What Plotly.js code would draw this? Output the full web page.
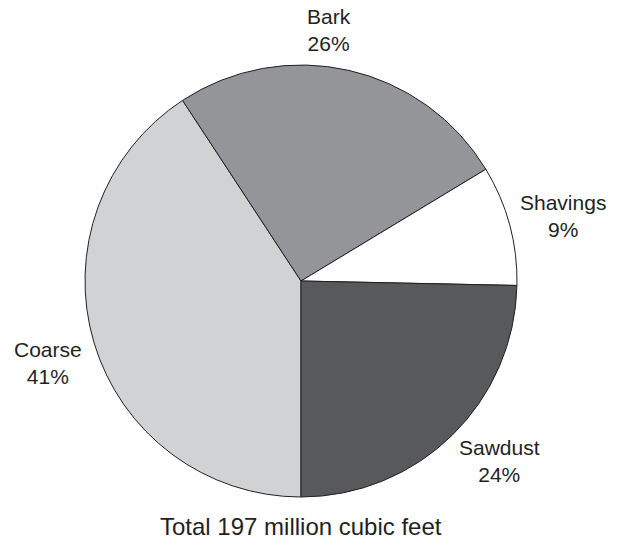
<!DOCTYPE html>
<html>
<head>
<meta charset="utf-8">
<script src="https://cdn.plot.ly/plotly-3.0.1.min.js"></script>
<style>html,body{margin:0;padding:0;background:#fff;}#chart{width:620px;height:540px;}</style>
</head>
<body>
<div id="chart"></div>
<script>
var categories = ["Coarse", "Bark", "Shavings", "Sawdust"];
var volumes = [80.3, 50.4, 17.7, 48.6]; // million cubic feet, as drawn
var percentLabels = ["41%", "26%", "9%", "24%"]; // as printed on the chart
var sliceColors = ["#d1d2d4", "#939598", "#ffffff", "#58595b"];
var totalLabel = "Total 197 million cubic feet";

// layout: where each slice label sits (paper coordinates)
var labelPlacement = [
  {x: -0.0845, y: 0.311},
  {x: 0.5637, y: 1.080},
  {x: 1.1065, y: 0.650},
  {x: 0.9606, y: 0.083}
];

var textColor = "#231f20";
var fontFamily = "Liberation Sans, Arial, Helvetica, sans-serif";

var trace = {
  type: "pie",
  labels: categories,
  values: volumes,
  sort: false,
  direction: "clockwise",
  rotation: 180,
  marker: {colors: sliceColors, line: {color: textColor, width: 1}},
  textinfo: "none",
  hoverinfo: "none",
  showlegend: false
};

var annotations = categories.map(function (name, i) {
  return {
    text: name + "<br>" + percentLabels[i],
    xref: "paper", yref: "paper",
    x: labelPlacement[i].x, y: labelPlacement[i].y,
    xanchor: "center", yanchor: "middle",
    align: "center",
    showarrow: false,
    font: {family: fontFamily, size: 21, color: textColor}
  };
});

annotations.push({
  text: totalLabel,
  xref: "paper", yref: "paper",
  x: 0.5, y: 0,
  xanchor: "center", yanchor: "middle",
  yshift: -29,
  showarrow: false,
  font: {family: fontFamily, size: 24, color: textColor}
});

var layout = {
  width: 620,
  height: 540,
  margin: {l: 85, r: 103, t: 65, b: 43},
  paper_bgcolor: "#ffffff",
  showlegend: false,
  annotations: annotations
};

Plotly.newPlot("chart", [trace], layout, {displayModeBar: false, staticPlot: true});
</script>
</body>
</html>
